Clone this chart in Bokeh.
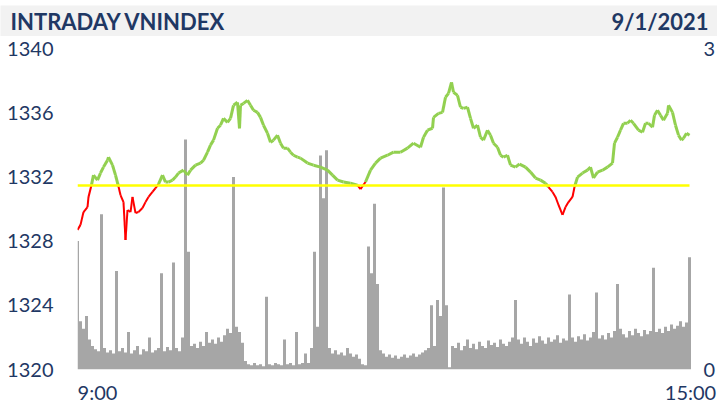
from bokeh.plotting import figure
from bokeh.models import Range1d, LinearAxis, FixedTicker, Label, Spacer
from bokeh.layouts import column, row
from bokeh.embed import file_html
from bokeh.resources import INLINE

# ---------------- data ----------------
title_text = "INTRADAY VNINDEX"
date_text = "9/1/2021"
ref_close = 1331.47  # previous close (yellow line)

# price: session tick index -> index value
price_t = [0, 3, 6, 10, 11, 14, 16, 20, 23, 26, 30, 31, 35, 38, 41, 43, 46, 48, 50, 53,
           55, 58, 61, 65, 68, 71, 75, 78, 81, 85, 88, 91, 95, 98, 101, 106, 110, 113, 118, 123,
           126, 130, 133, 136, 140, 143, 146, 150, 153, 156, 160, 162, 163, 166, 170, 173, 176, 180, 183, 186,
           190, 193, 196, 200, 203, 206, 210, 213, 216, 220, 223, 230, 236, 243, 250, 255, 260, 266, 273, 280,
           283, 288, 293, 298, 303, 310, 316, 323, 330, 336, 343, 346, 350, 355, 356, 361, 365, 368, 371, 374,
           376, 380, 383, 386, 390, 393, 396, 400, 403, 406, 410, 413, 416, 420, 423, 426, 430, 433, 438, 442,
           448, 453, 458, 463, 468, 471, 475, 478, 481, 485, 488, 491, 495, 497, 500, 505, 510, 513, 516, 520,
           525, 530, 535, 537, 540, 543, 546, 550, 553, 556, 561, 565, 568, 571, 575, 577, 580, 583, 586, 590,
           591, 595, 598, 601, 604, 606, 609, 612]
price_v = [1328.70, 1329.01, 1329.81, 1330.12, 1330.75, 1331.50, 1332.11, 1331.80, 1332.24, 1332.61,
           1333.04, 1333.23, 1332.73, 1332.11, 1331.40, 1330.87, 1330.43, 1328.07, 1329.94, 1329.81,
           1330.75, 1329.75, 1329.81, 1330.06, 1330.43, 1330.75, 1331.06, 1331.30, 1331.55, 1332.11,
           1331.68, 1331.68, 1331.80, 1331.99, 1332.24, 1332.42, 1332.11, 1332.42, 1332.73, 1332.86,
           1333.04, 1333.54, 1333.98, 1334.29, 1335.03, 1335.22, 1335.65, 1335.40, 1335.65, 1336.46,
           1336.65, 1335.03, 1336.46, 1336.58, 1336.77, 1336.46, 1336.15, 1336.02, 1335.71, 1335.22,
           1334.72, 1334.16, 1334.29, 1334.60, 1334.10, 1333.79, 1333.79, 1333.54, 1333.35, 1333.23,
           1333.17, 1332.86, 1332.73, 1332.61, 1332.42, 1332.11, 1331.80, 1331.68, 1331.61, 1331.49,
           1331.24, 1331.68, 1332.42, 1332.86, 1333.17, 1333.35, 1333.54, 1333.54, 1333.79, 1334.10,
           1333.85, 1334.47, 1334.91, 1335.03, 1335.71, 1335.96, 1336.02, 1336.96, 1337.20, 1337.89,
           1337.27, 1337.08, 1336.34, 1336.27, 1336.34, 1335.65, 1335.03, 1335.22, 1334.47, 1334.29,
           1334.91, 1334.60, 1334.10, 1333.85, 1333.35, 1333.23, 1333.35, 1332.73, 1332.61, 1332.80,
           1332.61, 1332.30, 1331.93, 1331.80, 1331.61, 1331.37, 1331.06, 1330.75, 1330.25, 1329.63,
           1330.12, 1330.43, 1330.75, 1331.37, 1331.99, 1332.24, 1332.42, 1332.61, 1331.93, 1332.30,
           1332.42, 1332.61, 1332.86, 1334.10, 1334.47, 1334.91, 1335.34, 1335.34, 1335.53, 1335.34,
           1334.91, 1334.78, 1335.34, 1335.34, 1335.09, 1335.84, 1336.15, 1335.84, 1335.53, 1335.96,
           1336.46, 1336.02, 1335.22, 1334.60, 1334.29, 1334.41, 1334.72, 1334.60]

# volume (right axis, 0..3), one bar every 3 ticks starting at tick 0
vol_step = 3
volume = [1.20, 0.45, 0.38, 0.50, 0.28, 0.22, 0.19, 0.17, 1.45, 0.20,
          0.16, 0.18, 0.15, 0.92, 0.17, 0.20, 0.16, 0.35, 0.15, 0.18,
          0.22, 0.14, 0.19, 0.17, 0.30, 0.16, 0.18, 0.20, 0.90, 0.17,
          0.21, 0.18, 1.00, 0.20, 0.17, 0.30, 2.15, 1.10, 0.22, 0.24,
          0.20, 0.26, 0.22, 0.35, 0.25, 0.28, 0.24, 0.30, 0.26, 0.32,
          0.38, 0.34, 1.80, 0.40, 0.35, 0.25, 0.08, 0.05, 0.04, 0.06,
          0.04, 0.05, 0.03, 0.68, 0.05, 0.04, 0.06, 0.05, 0.04, 0.28,
          0.05, 0.06, 0.04, 0.35, 0.05, 0.06, 0.15, 0.06, 0.20, 1.10,
          0.40, 2.00, 1.60, 2.05, 0.20, 0.15, 0.18, 0.14, 0.16, 0.13,
          0.20, 0.15, 0.12, 0.14, 0.10, 0.05, 0.04, 1.15, 0.90, 1.55,
          0.80, 0.18, 0.15, 0.12, 0.14, 0.11, 0.13, 0.10, 0.12, 0.14,
          0.11, 0.13, 0.15, 0.12, 0.14, 0.16, 0.18, 0.20, 0.60, 0.22,
          0.65, 0.50, 1.70, 0.60, 0.02, 0.22, 0.20, 0.25, 0.18, 0.22,
          0.28, 0.20, 0.24, 0.19, 0.26, 0.22, 0.20, 0.27, 0.23, 0.25,
          0.21, 0.28, 0.24, 0.22, 0.26, 0.30, 0.65, 0.28, 0.24, 0.30,
          0.26, 0.22, 0.29, 0.25, 0.31, 0.27, 0.24, 0.30, 0.26, 0.28,
          0.32, 0.25, 0.29, 0.27, 0.70, 0.30, 0.26, 0.31, 0.28, 0.33,
          0.27, 0.30, 0.35, 0.72, 0.29, 0.32, 0.28, 0.34, 0.30, 0.36,
          0.80, 0.38, 0.33, 0.30, 0.36, 0.32, 0.38, 0.34, 0.31, 0.37,
          0.33, 0.36, 0.95, 0.35, 0.38, 0.34, 0.40, 0.36, 0.42, 0.38,
          0.41, 0.45, 0.40, 0.44, 1.05]
vol_t = [i * vol_step for i in range(len(volume))]

y_ticks = [1320, 1324, 1328, 1332, 1336, 1340]
vol_ticks = [0, 3]
x_ticks = [20, 613]
x_tick_labels = ["9:00", "15:00"]

# ---------------- style ----------------
NAVY = "#1f3864"
GREEN = "#92d050"
RED = "#ff0000"
YELLOW = "#ffff00"
BAR = "#a6a6a6"
BAND = "#f2f2f2"
FONT = "Lato"
W = 720
LEFT, RIGHT = 77, 29

# ---------------- header band (own frame spanning the full width) ----------------
head = figure(width=717, height=31, x_range=(0, 1), y_range=(0, 1),
              toolbar_location=None, output_backend="svg",
              x_axis_location=None, y_axis_location=None, min_border=0,
              outline_line_color=None, background_fill_color=BAND,
              border_fill_color=BAND)
head.grid.visible = False
head.add_layout(Label(x=10, y=15.5, x_units="screen", y_units="screen", text=title_text,
                      text_font=FONT, text_font_style="bold", text_font_size="22px",
                      text_color=NAVY, text_baseline="middle", text_align="left"))
head.add_layout(Label(x=708, y=15.5, x_units="screen", y_units="screen", text=date_text,
                      text_font=FONT, text_font_style="bold", text_font_size="22px",
                      text_color=NAVY, text_baseline="middle", text_align="right"))

# ---------------- main chart ----------------
p = figure(width=W, height=370, x_range=Range1d(0, 614), y_range=Range1d(1320, 1340),
           toolbar_location=None, output_backend="svg",
           min_border_left=LEFT, min_border_right=RIGHT, min_border_top=12, min_border_bottom=36,
           outline_line_color=None, background_fill_color="white", border_fill_color="white")
p.extra_y_ranges = {"vol": Range1d(0, 3)}
p.grid.visible = False

# volume bars
p.vbar(x=vol_t, top=volume, bottom=0, width=3, y_range_name="vol",
       fill_color=BAR, line_color=None)

# price line, coloured by side of previous close
x0, y0, x1, y1, cols, widths = [], [], [], [], [], []
for i in range(len(price_t) - 1):
    a, b = price_v[i], price_v[i + 1]
    x0.append(price_t[i]); y0.append(a); x1.append(price_t[i + 1]); y1.append(b)
    up = (a + b) / 2 >= ref_close
    cols.append(GREEN if up else RED)
    widths.append(3 if up else 2)
p.segment(x0=x0, y0=y0, x1=x1, y1=y1, line_color=cols, line_width=widths)

# reference line
p.line(x=[price_t[0], price_t[-1]], y=[ref_close, ref_close], line_color=YELLOW, line_width=2.5)

# axes
yl = p.yaxis[0]
yl.ticker = FixedTicker(ticks=y_ticks)
xb = p.xaxis[0]
xb.ticker = FixedTicker(ticks=x_ticks)
xb.major_label_overrides = {t: s for t, s in zip(x_ticks, x_tick_labels)}
yr = LinearAxis(y_range_name="vol", ticker=FixedTicker(ticks=vol_ticks))
p.add_layout(yr, "right")

for ax, standoff in ((yl, 24), (xb, 10), (yr, 12)):
    ax.axis_line_color = None
    ax.major_tick_line_color = None
    ax.minor_tick_line_color = None
    ax.major_tick_out = 0
    ax.major_tick_in = 0
    ax.minor_tick_out = 0
    ax.minor_tick_in = 0
    ax.major_label_text_font = FONT
    ax.major_label_text_font_size = "20px"
    ax.major_label_text_color = NAVY
    ax.major_label_standoff = standoff

layout = column(Spacer(width=W, height=5), row(head), p, spacing=0)
open("out.html", "w").write(file_html(layout, INLINE))
